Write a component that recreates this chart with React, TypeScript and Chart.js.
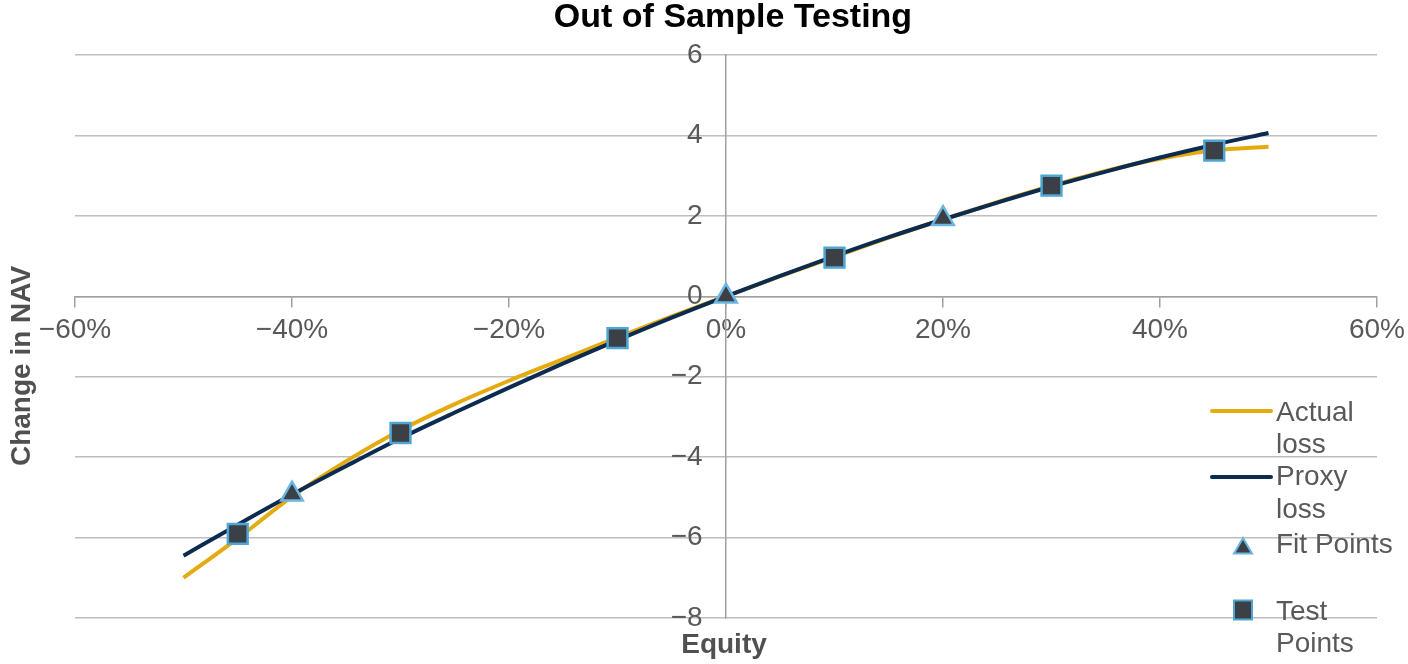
import React, { useEffect, useRef } from 'react';
import { Chart, registerables } from 'chart.js';

Chart.register(...registerables);

const TITLE = 'Out of Sample Testing';
const X_TITLE = 'Equity';
const Y_TITLE = 'Change in NAV';

// Equity shock (%) at which the two loss curves are read
const EQUITY = [-50, -45, -40, -35, -30, -25, -20, -15, -10, -5, 0, 5, 10, 15, 20, 25, 30, 35, 40, 45, 50];
const ACTUAL_LOSS = [-7.0, -6.02, -4.98, -4.1, -3.33, -2.68, -2.1, -1.56, -1.02, -0.5, 0, 0.5, 0.98, 1.46, 1.91, 2.34, 2.75, 3.12, 3.42, 3.63, 3.72];
const PROXY_LOSS = [-6.45, -5.68, -4.93, -4.22, -3.53, -2.89, -2.27, -1.67, -1.09, -0.53, 0, 0.51, 1.0, 1.47, 1.91, 2.33, 2.73, 3.1, 3.45, 3.77, 4.06];

const FIT_X = [-40, 0, 20];
const FIT_Y = [-4.92, 0, 1.93];

const TEST_X = [-45, -30, -10, 10, 30, 45];
const TEST_Y = [-5.91, -3.4, -1.04, 0.96, 2.75, 3.62];

const SERIES_LABELS = ['Actual loss', 'Proxy loss', 'Fit Points', 'Test Points'];
const LEGEND_LINES = [['Actual', 'loss'], ['Proxy', 'loss'], ['Fit Points'], ['Test', 'Points']];

const X_MIN = -60, X_MAX = 60, X_STEP = 20;
const Y_MIN = -8, Y_MAX = 6, Y_STEP = 2;

const FONT = '"Liberation Sans", Arial, Helvetica, sans-serif';
const GOLD = '#E4AA0E';
const NAVY = '#0C2B50';
const MARK_FILL = '#3B4046';
const MARK_EDGE = '#4FA6D2';
const TEXT = '#595959';

const fmtNum = (v: number) => (v < 0 ? '\u2212' + Math.abs(v) : String(v));

export default function App() {
  const ref = useRef<HTMLCanvasElement>(null);

  useEffect(() => {
    const canvas = ref.current;
    if (!canvas) return;

    const textPlugin = {
      id: 'customTexts',
      afterDraw(chart: any) {
        const c = chart.ctx as CanvasRenderingContext2D;
        c.save();
        // Title
        c.fillStyle = '#000';
        c.font = `bold 34px ${FONT}`;
        c.textAlign = 'center';
        c.textBaseline = 'middle';
        c.fillText(TITLE, 733, 18);
        // X axis title
        c.fillStyle = '#505050';
        c.font = `bold 28px ${FONT}`;
        c.fillText(X_TITLE, 724, 645);
        // Y axis title
        c.save();
        c.translate(22, 366);
        c.rotate(-Math.PI / 2);
        c.fillText(Y_TITLE, 0, 0);
        c.restore();

        // Legend
        const ds = chart.data.datasets;
        const sx = 1243;
        c.font = `28px ${FONT}`;
        c.fillStyle = TEXT;
        c.textAlign = 'left';
        c.textBaseline = 'alphabetic';
        const baselines = [[421, 453], [485, 518], [553], [620, 652]];
        LEGEND_LINES.forEach((lines, i) => {
          lines.forEach((t, j) => c.fillText(t, 1276, baselines[i][j]));
        });
        // line samples
        [[0, 411], [1, 477]].forEach(([i, y]) => {
          c.beginPath();
          c.strokeStyle = ds[i].borderColor;
          c.lineWidth = ds[i].borderWidth;
          c.lineCap = 'round';
          c.moveTo(1212, y);
          c.lineTo(1271, y);
          c.stroke();
        });
        // triangle sample
        const ty = 548, tr = 10;
        c.beginPath();
        c.moveTo(sx, ty - tr);
        c.lineTo(sx + tr * 0.9, ty + tr * 0.55);
        c.lineTo(sx - tr * 0.9, ty + tr * 0.55);
        c.closePath();
        c.fillStyle = ds[2].pointBackgroundColor;
        c.fill();
        c.strokeStyle = ds[2].pointBorderColor;
        c.lineWidth = 2;
        c.stroke();
        // square sample
        c.beginPath();
        c.rect(sx - 9, 610 - 9.5, 18, 19);
        c.fillStyle = ds[3].pointBackgroundColor;
        c.fill();
        c.strokeStyle = ds[3].pointBorderColor;
        c.lineWidth = 2;
        c.stroke();
        c.restore();
      },
    };

    const chart = new Chart(canvas, {
      type: 'scatter',
      data: {
        datasets: [
          {
            label: SERIES_LABELS[0],
            data: EQUITY.map((x, i) => ({ x, y: ACTUAL_LOSS[i] })),
            showLine: true,
            borderColor: GOLD,
            backgroundColor: GOLD,
            borderWidth: 4,
            pointRadius: 0,
            cubicInterpolationMode: 'monotone',
            order: 4,
          },
          {
            label: SERIES_LABELS[1],
            data: EQUITY.map((x, i) => ({ x, y: PROXY_LOSS[i] })),
            showLine: true,
            borderColor: NAVY,
            backgroundColor: NAVY,
            borderWidth: 4,
            pointRadius: 0,
            cubicInterpolationMode: 'monotone',
            order: 3,
          },
          {
            label: SERIES_LABELS[2],
            data: FIT_X.map((x, i) => ({ x, y: FIT_Y[i] })),
            showLine: false,
            pointStyle: 'triangle',
            pointRadius: 12.5,
            pointBackgroundColor: MARK_FILL,
            pointBorderColor: '#6BB6E2',
            pointBorderWidth: 2.5,
            order: 2,
          },
          {
            label: SERIES_LABELS[3],
            data: TEST_X.map((x, i) => ({ x, y: TEST_Y[i] })),
            showLine: false,
            pointStyle: 'rect',
            pointRadius: 14,
            pointBackgroundColor: MARK_FILL,
            pointBorderColor: MARK_EDGE,
            pointBorderWidth: 2.5,
            order: 1,
          },
        ] as any,
      },
      options: {
        responsive: false,
        animation: false,
        events: [],
        layout: { padding: { left: 75, top: 55, right: 31, bottom: 46 } },
        plugins: {
          legend: { display: false },
          title: { display: false },
          tooltip: { enabled: false },
        },
        scales: {
          x: {
            type: 'linear',
            min: X_MIN,
            max: X_MAX,
            position: { y: 0 } as any,
            afterFit: (s: any) => {
              s.height = 0;
              s.paddingLeft = 0;
              s.paddingRight = 0;
              s.paddingTop = 0;
              s.paddingBottom = 0;
            },
            ticks: {
              stepSize: X_STEP,
              color: TEXT,
              font: { family: FONT, size: 28 },
              padding: 7,
              maxRotation: 0,
              autoSkip: false,
              callback: (v: any) => fmtNum(Number(v)) + '%',
            },
            grid: {
              drawOnChartArea: false,
              drawTicks: true,
              tickLength: 10,
              color: '#A0A0A0',
              lineWidth: 1.5,
            },
            border: { display: true, color: '#A0A0A0', width: 1.5 },
          },
          y: {
            type: 'linear',
            min: Y_MIN,
            max: Y_MAX,
            position: { x: 0 } as any,
            afterFit: (s: any) => {
              s.width = 0;
              s.paddingLeft = 0;
              s.paddingRight = 0;
              s.paddingTop = 0;
              s.paddingBottom = 0;
            },
            ticks: {
              stepSize: Y_STEP,
              color: TEXT,
              font: { family: FONT, size: 28 },
              autoSkip: false,
              callback: (v: any) => fmtNum(Number(v)) + '   ',
            },
            grid: {
              drawOnChartArea: true,
              drawTicks: false,
              color: '#BEBEBE',
              lineWidth: 1.5,
            },
            border: { display: true, color: '#A0A0A0', width: 1.5 },
          },
        },
      },
      plugins: [textPlugin],
    } as any);

    return () => chart.destroy();
  }, []);

  return (
    <div style={{ position: 'absolute', left: 0, top: 0, width: 1408, height: 664, background: '#fff' }}>
      <canvas ref={ref} width={1408} height={664} style={{ display: 'block', width: 1408, height: 664 }} />
    </div>
  );
}
